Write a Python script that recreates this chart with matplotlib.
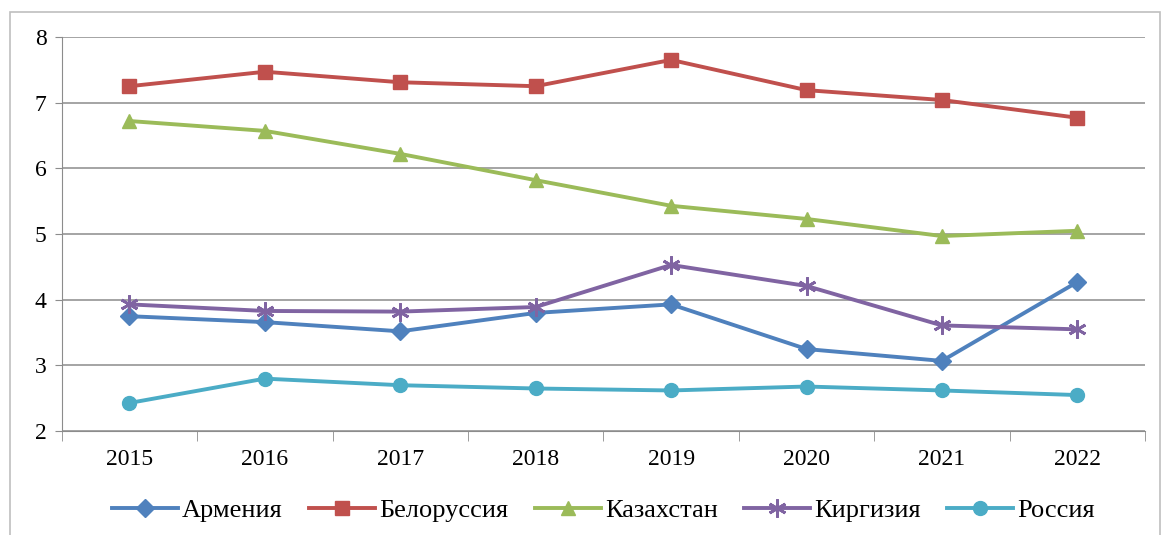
import matplotlib
matplotlib.use("Agg")
import matplotlib.pyplot as plt
from matplotlib.patches import Rectangle

# data
years = ["2015", "2016", "2017", "2018", "2019", "2020", "2021", "2022"]
armenia = [3.75, 3.66, 3.52, 3.80, 3.93, 3.25, 3.07, 4.27]
belarus = [7.25, 7.47, 7.31, 7.25, 7.65, 7.19, 7.04, 6.77]
kazakhstan = [6.72, 6.57, 6.22, 5.82, 5.43, 5.23, 4.97, 5.05]
kyrgyzstan = [3.93, 3.83, 3.82, 3.89, 4.53, 4.21, 3.61, 3.55]
russia = [2.43, 2.80, 2.70, 2.65, 2.62, 2.68, 2.62, 2.55]

series = [
    ("Армения", armenia, "#4F81BD", "D", 9),
    ("Белоруссия", belarus, "#C0504D", "s", 10),
    ("Казахстан", kazakhstan, "#9BBB59", "^", 10),
    ("Киргизия", kyrgyzstan, "#8064A2", (6, 2, 0), 13),
    ("Россия", russia, "#4BACC6", "o", 10),
]

plt.rcParams["font.family"] = ["Liberation Serif", "DejaVu Serif"]

fig = plt.figure(figsize=(11.66, 5.35), dpi=100)
ax = fig.add_axes([0.053, 0.194, 0.929, 0.737])

# outer chart border
fig.patches.append(Rectangle((10 / 1166, -0.1), 1150 / 1166, 1.1 - 12 / 535,
                             transform=fig.transFigure, fill=False,
                             edgecolor="#bfbfbf", linewidth=1.2))

x = list(range(len(years)))
for name, vals, color, marker, ms in series:
    ax.plot(x, vals, color=color, linewidth=2.8, marker=marker, markersize=ms,
            markeredgewidth=2 if marker == (6, 2, 0) else 1, markeredgecolor=color,
            label=name)

ax.set_xlim(-0.5, len(years) - 0.5)
ax.set_ylim(2, 8)
ax.set_yticks(range(2, 9))
ax.yaxis.grid(True, color="#8c8c8c", linewidth=1.1)
ax.set_axisbelow(True)

ax.set_xticks(x)
ax.set_xticklabels(years)
ax.set_xticks([i - 0.5 for i in range(len(years) + 1)], minor=True)
ax.tick_params(axis="x", which="major", length=0, pad=13, labelsize=17)
ax.tick_params(axis="x", which="minor", length=7, color="#8c8c8c")
ax.tick_params(axis="y", length=5, color="#8c8c8c", labelsize=17, pad=6)

for side in ["top", "right"]:
    ax.spines[side].set_visible(False)
for side in ["left", "bottom"]:
    ax.spines[side].set_color("#8c8c8c")

ax.legend(loc="center", bbox_to_anchor=(0.5, -0.2), ncol=5, frameon=False,
          fontsize=19, handlelength=2.5, columnspacing=1.0, handletextpad=0.15)

fig.savefig("out.png", dpi=100)
